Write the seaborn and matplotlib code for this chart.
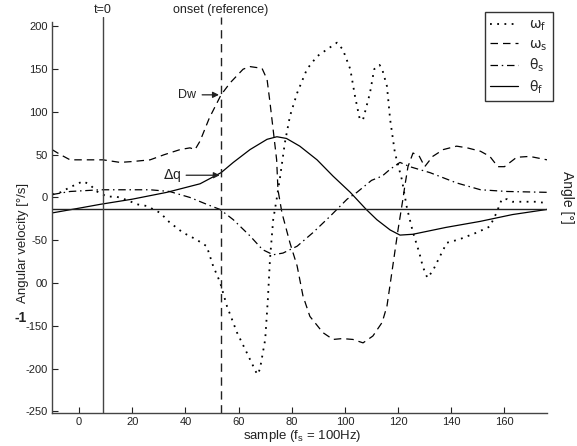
import numpy as np
import pandas as pd
import matplotlib
matplotlib.use("Agg")
import matplotlib.pyplot as plt
import seaborn as sns

sns.set_theme(style="white")
plt.rcParams['font.family'] = ['Liberation Sans', 'DejaVu Sans']
plt.rcParams['mathtext.fontset'] = 'dejavusans'

# ---- data ----
ws_x = [-10.2, -7, -3.4, 2.3, 9, 15.4, 20, 26.7, 32, 38, 41.7, 43.6, 45.5, 49, 53.4, 56.8,
        61.7, 64.3, 68.8, 70.7, 71.8, 73, 74.3, 74.8, 76.3, 79.3, 82, 84.2, 86.8, 91.7,
        95.5, 99, 103, 106.8, 110.5, 114, 115.8, 118, 120, 121.8, 122.5, 123.7, 125.6,
        128, 130, 133, 137, 142, 146, 151, 154.5, 157.5, 160, 164.6, 169.5, 176]
ws_y = [56, 50, 44, 44, 44, 41, 42, 44, 50, 56, 58, 56, 66, 93, 120, 134,
        150, 153, 151, 138, 111, 79, 44, 9, -18, -53, -80, -115, -139, -158,
        -166, -165, -166, -170, -162, -146, -127, -80, -37, -2, 13, 36, 52,
        48, 36, 48, 56, 60, 58, 54, 48, 36, 36, 47, 48, 44]

wf_x = [-10, -7, -3.4, 1.5, 4, 6.7, 10.5, 14, 18, 21.8, 25.5, 30.5, 34, 39, 44, 48, 50.4,
        53, 55.6, 59.4, 63, 67, 68, 70, 71, 71.8, 73, 74.3, 75.6, 77.4, 79.3, 82, 85.7,
        89.5, 93.2, 97, 99.2, 102, 103.8, 105.6, 106.8, 109.4, 111, 113, 114, 115.8,
        117, 118.8, 121.4, 123.3, 125.6, 128, 129.3, 131, 133, 135.7, 138.3, 143,
        149.6, 154.5, 157, 159, 161, 163, 168.4, 172, 174.4]
wf_y = [3.5, 6, 12, 19, 15, 7, 1, 1, -3, -8, -10, -18, -29, -41, -49, -57, -80,
        -99, -127, -158, -181, -207, -201, -166, -119, -72, -26, -2, 24, 64, 95, 122, 150,
        165, 173, 181, 173, 150, 118, 91, 91, 122, 150, 155, 150, 130,
        91, 52, 21, -12, -41, -65, -81, -94, -86, -69, -53, -49,
        -41, -34, -18, -2, -2, -5, -5, -5, -6]

ths_x = [-10, -3.4, 8, 26.7, 34, 41.7, 48, 53, 58, 64.3, 69, 73, 76.7, 82, 88, 94.4,
         100.8, 104.5, 110, 114, 117, 120.7, 124.4, 132, 142, 151, 161, 176]
ths_y = [3.5, 7, 9, 9, 7, 0, -8, -14, -26, -45, -61, -67, -65, -57, -41, -22,
         -2, 6, 20, 25, 33, 41, 36, 29, 17, 9, 7, 6]

thf_x = [-10, 0, 8, 20, 33, 45.5, 53.4, 58, 64.3, 70.7, 74.4, 78, 83, 89.5, 95.5, 102,
         108, 112, 117, 120.7, 125.6, 138, 150.8, 163, 176]
thf_y = [-18, -12.5, -8, -2, 6, 16, 29, 41, 56, 68, 71, 69, 60, 44, 25, 6,
         -14, -26, -38, -44, -43, -35, -28, -20, -14]

angle_zero = -13
t0 = 8.8
onset = 53.4
xticks = [0, 20, 40, 60, 80, 100, 120, 140, 160]
yticks = [200, 150, 100, 50, 0, -50, -100, -150, -200, -250]
ytick_labels = ['200', '150', '100', '50', '0', '-50', '00', '-150', '-200', '-250']

# ---- figure ----
W, H = 577, 446
fig = plt.figure(figsize=(W / 100, H / 100), dpi=100)
ax_l, ax_r, ax_b, ax_t = 52, 547, 413, 17
ax = fig.add_axes([ax_l / W, 1 - ax_b / H, (ax_r - ax_l) / W, (ax_b - ax_t) / H])
ax.set_facecolor('white')

lw = 0.9
series = [
    (wf_x, wf_y, r'$\mathrm{\omega}_\mathrm{f}$', (0, (1, 3)), 1.3),
    (ws_x, ws_y, r'$\mathrm{\omega}_\mathrm{s}$', (0, (6, 4)), lw),
    (ths_x, ths_y, r'$\mathrm{\theta}_\mathrm{s}$', (0, (6, 3, 1.2, 3)), lw),
    (thf_x, thf_y, r'$\mathrm{\theta}_\mathrm{f}$', '-', lw),
]
handles = []
for xs, ys, lab, ls, w in series:
    df = pd.DataFrame({'x': xs, 'y': ys})
    n_before = len(ax.lines)
    sns.lineplot(data=df, x='x', y='y', ax=ax, color='black', lw=w,
                 linestyle=ls, sort=False, estimator=None, legend=False)
    ln = ax.lines[n_before]
    ln.set_label(lab)
    handles.append(ln)

ax.axhline(angle_zero, color='#222222', lw=1.0, xmin=0, xmax=1)
ax.axvline(t0, color='#444444', lw=1.0)
ax.axvline(onset, color='#222222', lw=1.0, linestyle=(0, (6, 4)))

ax.set_xlim(-10.2, 176)
ax.set_ylim(-252, 211)
ax.set_xticks(xticks)
ax.set_yticks(yticks)
ax.set_yticklabels(ytick_labels)
ax.tick_params(direction='in', length=4, width=0.8, labelsize=8, colors='#222222',
               pad=3, left=True, bottom=True)
for s in ['top', 'right']:
    ax.spines[s].set_visible(False)
for s in ['left', 'bottom']:
    ax.spines[s].set_color('#444444')
    ax.spines[s].set_linewidth(1.0)
ax.spines['left'].set_bounds(-252, 205)
ax.set_xlabel('')
ax.set_ylabel('')

# labels
fig.text(302 / W, 1 - 436 / H, r'sample (f$_\mathregular{s}$ = 100Hz)', ha='center', va='center',
         fontsize=9.5, color='#222222')
fig.text(23 / W, 1 - 243 / H, 'Angular velocity [°/s]', rotation=90, ha='center',
         va='center', fontsize=9.5, color='#222222')
fig.text(567 / W, 1 - 197 / H, 'Angle [°]', rotation=270, ha='center', va='center',
         fontsize=10, color='#222222')
fig.text(21 / W, 1 - 318 / H, '-1', ha='center', va='center', fontsize=10,
         fontweight='bold', color='#222222')
fig.text(103 / W, 1 - 10 / H, 't=0', ha='center', va='center', fontsize=9, color='#222222')
fig.text(221 / W, 1 - 10 / H, 'onset (reference)', ha='center', va='center', fontsize=9,
         color='#222222')

# annotations
ax.annotate('Dw', xy=(onset - 0.8, 120), xytext=(44, 120), ha='right', va='center',
            fontsize=9, color='#222222',
            arrowprops=dict(arrowstyle='-|>', color='#222222', lw=0.9, mutation_scale=9,
                            shrinkA=2, shrinkB=0))
ax.annotate(r'$\Delta$q', xy=(onset - 0.5, 26), xytext=(38.5, 26), ha='right', va='center',
            fontsize=10, color='#222222',
            arrowprops=dict(arrowstyle='-|>', color='#222222', lw=0.9, mutation_scale=9,
                            shrinkA=1, shrinkB=0))

leg = fig.legend(handles=handles, loc='upper right', bbox_to_anchor=(553 / W, 1 - 12 / H),
                 frameon=True, fancybox=False, edgecolor='black', fontsize=10,
                 handlelength=2.0, handletextpad=0.8, borderpad=0.4, labelspacing=0.3,
                 borderaxespad=0)
leg.get_frame().set_linewidth(1.0)

fig.savefig('out.png', dpi=100, facecolor='white')
